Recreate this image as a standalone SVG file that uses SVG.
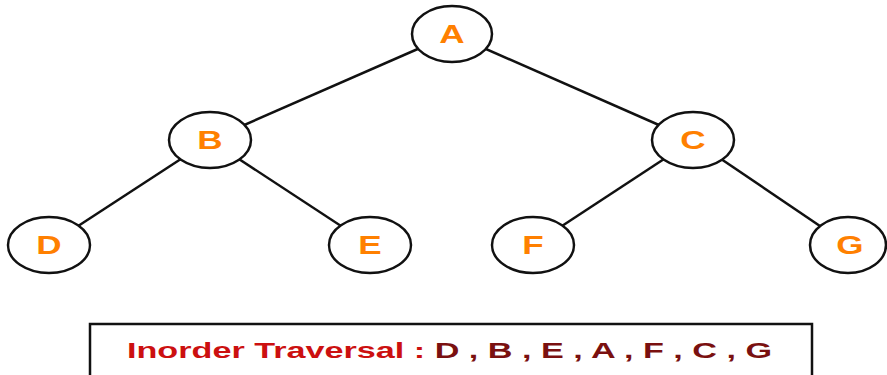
<svg xmlns="http://www.w3.org/2000/svg" width="887" height="375" viewBox="0 0 887 375">
<style>
.edge{stroke:#111;stroke-width:2.5;fill:none}
.node ellipse{fill:#fff;stroke:#111;stroke-width:2.5}
.node text{font-family:"Liberation Sans",Arial,sans-serif;font-weight:bold;font-size:26px;fill:#ff8000;text-anchor:middle}
.t1{fill:#cc1010}
.t2{fill:#7a1010}
</style>
<rect width="887" height="375" fill="#fff"/>
<g id="connectors">
<line class="edge" x1="452" y1="34" x2="210" y2="140"/>
<line class="edge" x1="452" y1="34" x2="693" y2="140"/>
<line class="edge" x1="210" y1="140" x2="49" y2="245"/>
<line class="edge" x1="210" y1="140" x2="370" y2="245"/>
<line class="edge" x1="693" y1="140" x2="533" y2="245"/>
<line class="edge" x1="693" y1="140" x2="848" y2="245"/>
</g>
<g id="node-A" class="node"><ellipse cx="452" cy="34" rx="40" ry="28"/><text transform="translate(452,43) scale(1.35,1)">A</text></g>
<g id="node-B" class="node"><ellipse cx="210" cy="140" rx="41" ry="28"/><text transform="translate(210,149) scale(1.35,1)">B</text></g>
<g id="node-C" class="node"><ellipse cx="693" cy="140" rx="41" ry="28"/><text transform="translate(693,149) scale(1.35,1)">C</text></g>
<g id="node-D" class="node"><ellipse cx="49" cy="245" rx="41" ry="28"/><text transform="translate(49,254) scale(1.35,1)">D</text></g>
<g id="node-E" class="node"><ellipse cx="370" cy="245" rx="41" ry="28"/><text transform="translate(370,254) scale(1.35,1)">E</text></g>
<g id="node-F" class="node"><ellipse cx="533" cy="245" rx="41" ry="28"/><text transform="translate(533,254) scale(1.35,1)">F</text></g>
<g id="node-G" class="node"><ellipse cx="848" cy="245" rx="38" ry="28"/><text transform="translate(850,254) scale(1.35,1)">G</text></g>
<g id="result">
<rect x="90" y="324" width="722" height="60" fill="#fff" stroke="#111" stroke-width="2.5"/>
<text x="127" y="358" font-family="Liberation Sans,Arial,sans-serif" font-size="22" font-weight="bold" textLength="645" lengthAdjust="spacingAndGlyphs"><tspan class="t1">Inorder Traversal :</tspan><tspan class="t2"> D , B , E , A , F , C , G</tspan></text>
</g>
</svg>
